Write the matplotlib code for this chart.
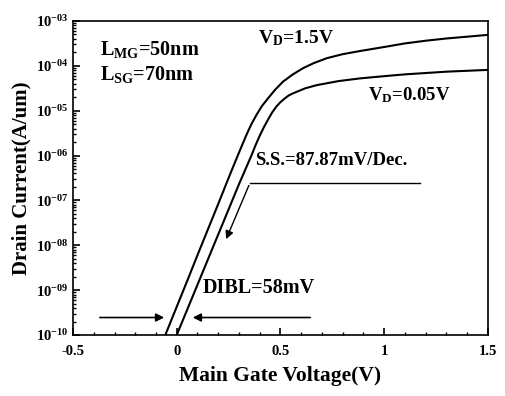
import matplotlib
matplotlib.use("Agg")
import matplotlib.pyplot as plt
import numpy as np
from matplotlib.ticker import MultipleLocator, LogLocator, FixedLocator, FixedFormatter, NullFormatter

# Datos (log10 de la corriente de drenador)
vg_hi = [-0.055, 0.0, 0.05, 0.1, 0.15, 0.2, 0.25, 0.296, 0.336, 0.36, 0.385, 0.41, 0.441,
         0.475, 0.513, 0.56, 0.61, 0.66, 0.723, 0.8, 0.883, 1.0, 1.1, 1.2, 1.3, 1.4, 1.5]
log_id_hi = [-10.0, -9.37, -8.8, -8.22, -7.65, -7.08, -6.5, -5.98, -5.54, -5.3, -5.09, -4.9,
             -4.72, -4.53, -4.35, -4.19, -4.05, -3.94, -3.83, -3.74, -3.67, -3.58, -3.5,
             -3.44, -3.39, -3.35, -3.31]
vg_lo = [0.0, 0.05, 0.1, 0.15, 0.2, 0.25, 0.3, 0.36, 0.38, 0.4, 0.42, 0.44, 0.46, 0.48,
         0.5, 0.52, 0.54, 0.562, 0.62, 0.675, 0.78, 0.883, 1.0, 1.1, 1.2, 1.3, 1.4, 1.5]
log_id_lo = [-10.0, -9.44, -8.88, -8.32, -7.76, -7.2, -6.64, -6.0, -5.77, -5.56, -5.37,
             -5.2, -5.04, -4.91, -4.81, -4.73, -4.66, -4.61, -4.5, -4.43, -4.34, -4.28,
             -4.23, -4.19, -4.16, -4.13, -4.11, -4.09]

ytick_vals = [1e-10, 1e-9, 1e-8, 1e-7, 1e-6, 1e-5, 1e-4, 1e-3]
ytick_txt = [r'$10^{-10}$', r'$10^{-09}$', r'$10^{-08}$', r'$10^{-07}$',
             r'$10^{-06}$', r'$10^{-05}$', r'$10^{-04}$', r'$10^{-03}$']
xtick_vals = [-0.5, 0, 0.5, 1, 1.5]
xtick_txt = ['-0.5', '0', '0.5', '1', '1.5']

plt.rcParams['font.family'] = ['Liberation Serif', 'DejaVu Serif']
plt.rcParams['font.weight'] = 'bold'
plt.rcParams['mathtext.fontset'] = 'custom'
plt.rcParams['mathtext.rm'] = 'Liberation Serif:bold'
plt.rcParams['mathtext.it'] = 'Liberation Serif:bold'
plt.rcParams['mathtext.bf'] = 'Liberation Serif:bold'

fig = plt.figure(figsize=(5.05, 3.96), dpi=100)
ax = fig.add_axes([0.1446, 0.154, 0.8214, 0.793])

ax.plot(vg_hi, [10 ** v for v in log_id_hi], color='black', lw=1.5)
ax.plot(vg_lo, [10 ** v for v in log_id_lo], color='black', lw=1.5)

ax.set_yscale('log')
ax.set_xlim(-0.5, 1.5)
ax.set_ylim(1e-10, 1e-3)

ax.yaxis.set_major_locator(FixedLocator(ytick_vals))
ax.yaxis.set_major_formatter(FixedFormatter(ytick_txt))
ax.yaxis.set_minor_locator(LogLocator(base=10, subs=np.arange(2, 10)))
ax.yaxis.set_minor_formatter(NullFormatter())
ax.xaxis.set_major_locator(FixedLocator(xtick_vals))
ax.xaxis.set_major_formatter(FixedFormatter(xtick_txt))
ax.xaxis.set_minor_locator(MultipleLocator(0.1))

ax.tick_params(which='both', direction='in', top=False, right=False, labelsize=10.5)
ax.tick_params(axis='x', pad=7)
ax.tick_params(which='major', length=5, width=1.2)
ax.tick_params(which='minor', length=2.5, width=1)
for s in ax.spines.values():
    s.set_linewidth(1.2)

ax.set_xlabel('Main Gate Voltage(V)', fontsize=15.5, fontweight='bold', labelpad=6)
ax.set_ylabel('Drain Current(A/um)', fontsize=15, fontweight='bold', labelpad=3)

# Textos
ax.text(-0.37, 10 ** -3.76, r'L$_{\rm MG}$=50nm', fontsize=14.5, va='baseline')
ax.text(-0.37, 10 ** -4.31, r'L$_{\rm SG}$=70nm', fontsize=14.5, va='baseline')
ax.text(0.39, 10 ** -3.49, r'V$_{\rm D}$=1.5V', fontsize=14, va='baseline')
ax.text(0.92, 10 ** -4.76, r'V$_{\rm D}$=0.05V', fontsize=13.5, va='baseline')
ax.text(0.377, 10 ** -6.22, 'S.S.=87.87mV/Dec.', fontsize=13.5, va='baseline')
ax.text(0.127, 10 ** -9.06, 'DIBL=58mV', fontsize=14.5, va='baseline')

# Linea y flecha de S.S.
ax.plot([0.353, 1.172], [10 ** -6.61, 10 ** -6.61], color='black', lw=1)
ax.annotate('', xy=(0.233, 10 ** -7.92), xytext=(0.353, 10 ** -6.61),
            arrowprops=dict(arrowstyle='-|>', color='black', lw=1, mutation_scale=12))

# Flechas de DIBL
ax.annotate('', xy=(-0.047, 10 ** -9.61), xytext=(-0.384, 10 ** -9.61),
            arrowprops=dict(arrowstyle='-|>', color='black', lw=1.2, mutation_scale=12))
ax.annotate('', xy=(0.064, 10 ** -9.61), xytext=(0.657, 10 ** -9.61),
            arrowprops=dict(arrowstyle='-|>', color='black', lw=1.2, mutation_scale=12))

fig.savefig('out.png', dpi=100)
